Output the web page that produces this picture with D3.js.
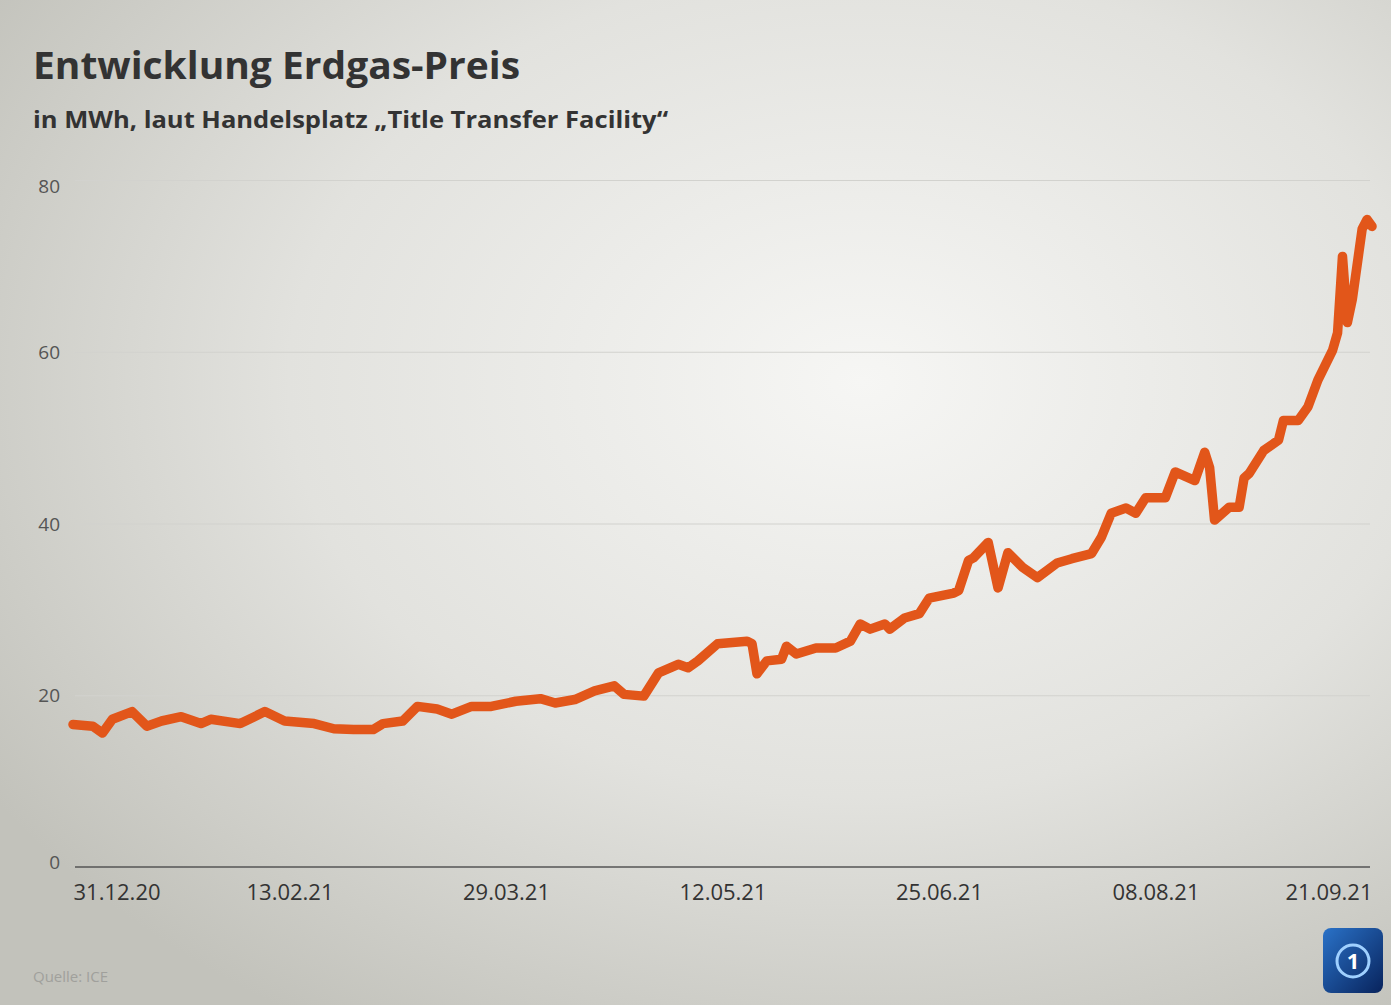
<!DOCTYPE html>
<html>
<head>
<meta charset="utf-8">
<title>Entwicklung Erdgas-Preis</title>
<script src="https://d3js.org/d3.v7.min.js"></script>
<style>
    body { margin: 0; }
    text { font-family: "Open Sans", "Noto Sans", sans-serif; }
</style>
</head>
<body>
<div id="chart"></div>
<script>
// TTF-Preis in EUR/MWh
const dates = [
    "31.12.20", "04.01.21", "06.01.21", "08.01.21", "12.01.21", "15.01.21", "18.01.21", "22.01.21",
    "26.01.21", "28.01.21", "03.02.21", "08.02.21", "12.02.21", "18.02.21", "22.02.21", "26.02.21",
    "02.03.21", "04.03.21", "08.03.21", "11.03.21", "15.03.21", "18.03.21", "22.03.21", "26.03.21",
    "31.03.21", "05.04.21", "08.04.21", "12.04.21", "16.04.21", "20.04.21", "22.04.21", "26.04.21",
    "29.04.21", "03.05.21", "05.05.21", "07.05.21", "11.05.21", "17.05.21", "18.05.21", "19.05.21",
    "21.05.21", "24.05.21", "25.05.21", "27.05.21", "31.05.21", "04.06.21", "07.06.21", "09.06.21",
    "11.06.21", "14.06.21", "15.06.21", "18.06.21", "21.06.21", "23.06.21", "28.06.21", "29.06.21",
    "01.07.21", "02.07.21", "05.07.21", "07.07.21", "09.07.21", "12.07.21", "15.07.21", "19.07.21",
    "22.07.21", "26.07.21", "28.07.21", "30.07.21", "02.08.21", "04.08.21", "06.08.21", "10.08.21",
    "12.08.21", "16.08.21", "18.08.21", "19.08.21", "20.08.21", "23.08.21", "25.08.21", "26.08.21",
    "27.08.21", "30.08.21", "02.09.21", "03.09.21", "06.09.21", "08.09.21", "10.09.21", "13.09.21",
    "14.09.21", "15.09.21", "16.09.21", "17.09.21", "19.09.21", "20.09.21", "21.09.21"
];
const prices = [
    16.6, 16.4, 15.6, 17.2, 18.1, 16.4, 17.0, 17.5,
    16.7, 17.2, 16.7, 18.1, 17.0, 16.7, 16.1, 16.0,
    16.0, 16.7, 17.0, 18.7, 18.4, 17.8, 18.7, 18.7,
    19.3, 19.6, 19.1, 19.5, 20.5, 21.1, 20.1, 19.9,
    22.6, 23.6, 23.2, 24.0, 26.0, 26.3, 26.0, 22.5,
    24.0, 24.2, 25.7, 24.8, 25.5, 25.5, 26.3, 28.3,
    27.7, 28.3, 27.7, 29.0, 29.5, 31.3, 31.9, 32.2,
    35.7, 36.0, 37.8, 32.5, 36.6, 34.9, 33.7, 35.4,
    35.9, 36.5, 38.4, 41.2, 41.8, 41.2, 43.0, 43.0,
    46.0, 45.0, 48.3, 46.5, 40.4, 41.9, 41.9, 45.3,
    45.8, 48.5, 49.7, 52.0, 52.0, 53.6, 56.7, 60.2,
    62.2, 71.1, 63.4, 66.1, 74.3, 75.4, 74.6
];
const xTickLabels = ["31.12.20", "13.02.21", "29.03.21", "12.05.21", "25.06.21", "08.08.21", "21.09.21"];
const yTicks = [0, 20, 40, 60, 80];

const W = 1391, H = 1005;
const parse = d3.timeParse("%d.%m.%y");
const fmt = d3.timeFormat("%d.%m.%y");
const data = dates.map((d, i) => ({ date: parse(d), value: prices[i] }));

const svg = d3.select("#chart").append("svg")
    .attr("width", W)
    .attr("height", H);

const defs = svg.append("defs");
const bg = defs.append("radialGradient").attr("id", "bg")
    .attr("cx", 0.62).attr("cy", 0.38).attr("r", 0.75);
bg.append("stop").attr("offset", "0%").attr("stop-color", "#f6f6f4");
bg.append("stop").attr("offset", "55%").attr("stop-color", "#e2e2de");
bg.append("stop").attr("offset", "100%").attr("stop-color", "#c2c2bb");

const logoGrad = defs.append("linearGradient").attr("id", "logo")
    .attr("x1", 0).attr("y1", 0).attr("x2", 1).attr("y2", 1);
logoGrad.append("stop").attr("offset", "0%").attr("stop-color", "#2a72c8");
logoGrad.append("stop").attr("offset", "100%").attr("stop-color", "#08235c");

svg.append("rect").attr("width", W).attr("height", H).attr("fill", "url(#bg)");

const x = d3.scaleTime()
    .domain([parse("31.12.20"), parse("21.09.21")])
    .range([73, 1372]);

const y = d3.scaleLinear()
    .domain([0, 80])
    .range([867, 180]);

// gridlines + y labels
const yAxis = svg.append("g")
    .attr("transform", "translate(75,0)")
    .call(d3.axisLeft(y).tickValues(yTicks).tickSize(-1295).tickPadding(15));
yAxis.select(".domain").remove();
yAxis.selectAll(".tick line")
    .attr("stroke", "#d2d2ce")
    .attr("stroke-width", 1.2)
    .filter(d => d === 0).remove();
yAxis.selectAll(".tick text")
    .attr("fill", "#555")
    .attr("dy", d => d === 80 ? "0.65em" : (d === 0 ? "0.1em" : "0.35em"))
    .style("font-size", "19px");

// x axis
const xAxis = svg.append("g")
    .attr("transform", `translate(0,${y(0)})`)
    .call(d3.axisBottom(x)
        .tickValues(xTickLabels.map(parse))
        .tickFormat(fmt)
        .tickSize(0)
        .tickPadding(17));
xAxis.select(".domain")
    .attr("d", "M75,0H1370")
    .attr("stroke", "#555")
    .attr("stroke-width", 1.6);
xAxis.selectAll(".tick text")
    .attr("fill", "#333")
    .style("font-size", "22px")
    .attr("text-anchor", (d, i, n) => i === 0 ? "start" : (i === n.length - 1 ? "end" : "middle"));

// line
const line = d3.line()
    .x(d => x(d.date))
    .y(d => y(d.value));

svg.append("path")
    .datum(data)
    .attr("fill", "none")
    .attr("stroke", "#e2561a")
    .attr("stroke-width", 9.5)
    .attr("stroke-linejoin", "round")
    .attr("stroke-linecap", "round")
    .attr("d", line);

// titles
svg.append("text")
    .attr("x", 33).attr("y", 79)
    .attr("fill", "#333")
    .attr("font-weight", "bold")
    .attr("textLength", 487)
    .attr("lengthAdjust", "spacingAndGlyphs")
    .style("font-size", "38px")
    .text("Entwicklung Erdgas-Preis");

svg.append("text")
    .attr("x", 33).attr("y", 128)
    .attr("fill", "#333")
    .attr("font-weight", "bold")
    .attr("textLength", 635)
    .attr("lengthAdjust", "spacingAndGlyphs")
    .style("font-size", "23px")
    .text("in MWh, laut Handelsplatz \u201ETitle Transfer Facility\u201C");

svg.append("text")
    .attr("x", 33).attr("y", 982)
    .attr("fill", "#a0a09c")
    .style("font-size", "15px")
    .text("Quelle: ICE");

// logo
const logo = svg.append("g").attr("transform", "translate(1323,928)");
logo.append("rect")
    .attr("width", 60).attr("height", 65).attr("rx", 8)
    .attr("fill", "url(#logo)");
logo.append("circle")
    .attr("cx", 30).attr("cy", 33).attr("r", 16)
    .attr("fill", "none")
    .attr("stroke", "#9fd0ff")
    .attr("stroke-width", 3);
logo.append("text")
    .attr("x", 30).attr("y", 41)
    .attr("text-anchor", "middle")
    .attr("fill", "#ffffff")
    .attr("font-weight", "bold")
    .style("font-size", "22px")
    .text("1");
</script>
</body>
</html>
